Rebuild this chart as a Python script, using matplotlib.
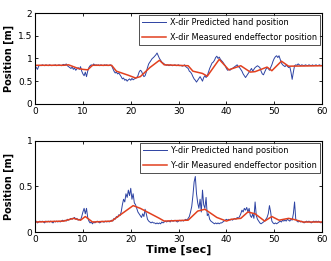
import numpy as np
import matplotlib
matplotlib.use("Agg")
import matplotlib.pyplot as plt

# time grid for predicted signals (0.25 s)
t_pred = np.arange(0, 60.001, 0.25)

x_pred = [
    0.84, 0.80, 0.76, 0.83, 0.85, 0.84, 0.86, 0.85, 0.84, 0.86, 0.85, 0.84,
    0.86, 0.85, 0.84, 0.85, 0.85, 0.86, 0.84, 0.85, 0.86, 0.85, 0.84, 0.86,
    0.87, 0.85, 0.88, 0.84, 0.82, 0.80, 0.78, 0.81, 0.76, 0.79, 0.74, 0.77,
    0.80, 0.76, 0.82, 0.72, 0.66, 0.62, 0.70, 0.60, 0.72, 0.80, 0.84, 0.86,
    0.84, 0.88, 0.85, 0.86, 0.85, 0.86, 0.84, 0.86, 0.85, 0.84, 0.86, 0.85,
    0.86, 0.84, 0.85, 0.86, 0.84, 0.78, 0.72, 0.68, 0.70, 0.66, 0.68, 0.64,
    0.60, 0.55, 0.57, 0.52, 0.54, 0.50, 0.53, 0.55, 0.52, 0.56, 0.53, 0.55,
    0.56, 0.58, 0.62, 0.70, 0.74, 0.72, 0.65, 0.60, 0.62, 0.70, 0.80, 0.88,
    0.92, 0.96, 1.00, 1.02, 1.05, 1.08, 1.12, 1.06, 1.00, 0.96, 0.92, 0.90,
    0.88, 0.86, 0.85, 0.86, 0.84, 0.86, 0.85, 0.84, 0.85, 0.86, 0.84, 0.85,
    0.86, 0.84, 0.85, 0.83, 0.84, 0.86, 0.82, 0.80, 0.78, 0.72, 0.70, 0.66,
    0.60, 0.55, 0.52, 0.48, 0.52, 0.56, 0.60, 0.55, 0.50, 0.58, 0.62, 0.58,
    0.62, 0.70, 0.78, 0.84, 0.90, 0.92, 0.96, 1.02, 1.05, 1.00, 1.03, 0.98,
    0.95, 0.92, 0.88, 0.84, 0.78, 0.74, 0.76, 0.74, 0.77, 0.78, 0.80, 0.82,
    0.84, 0.86, 0.82, 0.80, 0.76, 0.72, 0.66, 0.62, 0.58, 0.62, 0.66, 0.70,
    0.74, 0.78, 0.72, 0.76, 0.80, 0.82, 0.84, 0.82, 0.80, 0.72, 0.66, 0.64,
    0.70, 0.76, 0.80, 0.78, 0.74, 0.80, 0.86, 0.94, 1.00, 1.04, 1.06, 1.02,
    1.06, 0.98, 0.90, 0.86, 0.84, 0.82, 0.85, 0.83, 0.80, 0.82, 0.70, 0.54,
    0.70, 0.84, 0.86, 0.85, 0.88, 0.86, 0.84, 0.86, 0.85, 0.84, 0.86, 0.85,
    0.84, 0.86, 0.85, 0.84, 0.86, 0.84, 0.85, 0.86, 0.84, 0.85, 0.86, 0.84,
    0.85,
]

y_pred = [
    0.11, 0.12, 0.10, 0.11, 0.12, 0.11, 0.12, 0.11, 0.10, 0.12, 0.11, 0.12,
    0.11, 0.12, 0.11, 0.10, 0.12, 0.11, 0.12, 0.11, 0.12, 0.11, 0.12, 0.13,
    0.12, 0.13, 0.12, 0.14, 0.13, 0.14, 0.15, 0.14, 0.15, 0.16, 0.14, 0.15,
    0.13, 0.14, 0.13, 0.17, 0.22, 0.26, 0.20, 0.26, 0.16, 0.12, 0.10, 0.11,
    0.09, 0.11, 0.10, 0.11, 0.12, 0.11, 0.10, 0.11, 0.12, 0.11, 0.11, 0.12,
    0.11, 0.12, 0.11, 0.12, 0.13, 0.12, 0.15, 0.14, 0.17, 0.16, 0.19, 0.18,
    0.22, 0.30, 0.36, 0.33, 0.42, 0.38, 0.46, 0.40, 0.48, 0.36, 0.42, 0.32,
    0.30, 0.26, 0.22, 0.20, 0.18, 0.16, 0.20, 0.17, 0.25, 0.20, 0.14, 0.12,
    0.11, 0.10, 0.11, 0.10, 0.10, 0.09, 0.10, 0.09, 0.10, 0.09, 0.11, 0.10,
    0.11, 0.12, 0.11, 0.12, 0.12, 0.11, 0.13, 0.12, 0.12, 0.13, 0.12, 0.11,
    0.12, 0.13, 0.12, 0.13, 0.12, 0.13, 0.14, 0.13, 0.15, 0.17, 0.22, 0.28,
    0.40, 0.55, 0.61, 0.42, 0.32, 0.26, 0.36, 0.22, 0.46, 0.30, 0.26, 0.38,
    0.18, 0.20, 0.14, 0.12, 0.11, 0.10, 0.09, 0.10, 0.09, 0.10, 0.09, 0.10,
    0.10, 0.11, 0.12, 0.13, 0.14, 0.13, 0.14, 0.13, 0.14, 0.13, 0.14, 0.15,
    0.14, 0.16, 0.15, 0.17, 0.20, 0.24, 0.22, 0.26, 0.24, 0.27, 0.22, 0.26,
    0.18, 0.16, 0.20, 0.15, 0.33, 0.18, 0.14, 0.12, 0.10, 0.09, 0.10, 0.11,
    0.12, 0.14, 0.16, 0.20, 0.29, 0.22, 0.12, 0.10, 0.09, 0.10, 0.09, 0.10,
    0.11, 0.12, 0.11, 0.13, 0.12, 0.13, 0.12, 0.14, 0.13, 0.12, 0.14, 0.13,
    0.20, 0.33, 0.14, 0.12, 0.11, 0.12, 0.11, 0.12, 0.11, 0.10, 0.11, 0.12,
    0.11, 0.12, 0.11, 0.10, 0.11, 0.12, 0.11, 0.12, 0.11, 0.12, 0.11, 0.10,
    0.11,
]

# measured end-effector (piecewise linear)
x_meas_t = [0, 6, 7, 9, 10, 11, 12, 16, 17, 19.5, 21, 22, 24, 26, 27, 32,
            33, 35, 36, 38.5, 40.5, 43, 45, 46, 48.5, 49.5, 51.5, 53, 60]
x_meas = [0.85, 0.85, 0.86, 0.78, 0.76, 0.75, 0.85, 0.85, 0.72, 0.63, 0.57,
          0.60, 0.80, 0.96, 0.86, 0.84, 0.72, 0.67, 0.61, 0.98, 0.75, 0.84,
          0.70, 0.71, 0.81, 0.73, 0.94, 0.83, 0.84]

y_meas_t = [0, 6, 8, 9.5, 10.5, 12, 16, 20.5, 22, 26, 27, 32, 34, 35.5, 38,
            40, 41, 43, 44.5, 46, 48, 49.5, 51, 53, 54, 56, 60]
y_meas = [0.11, 0.12, 0.15, 0.13, 0.17, 0.11, 0.12, 0.29, 0.26, 0.15, 0.12,
          0.13, 0.23, 0.25, 0.16, 0.12, 0.14, 0.15, 0.22, 0.20, 0.12, 0.17,
          0.13, 0.15, 0.14, 0.11, 0.11]

x_ticks = [0, 10, 20, 30, 40, 50, 60]
top_yticks = [0, 0.5, 1, 1.5, 2]
bot_yticks = [0, 0.5, 1]

blue = "#2d43a3"
red = "#e2401f"

fig = plt.figure(figsize=(3.31, 2.61), dpi=100)
ax1 = fig.add_axes([0.106, 0.602, 0.867, 0.348])
ax2 = fig.add_axes([0.106, 0.111, 0.867, 0.349])

def style(ax, yticks, ylim):
    ax.set_xlim(0, 60)
    ax.set_ylim(*ylim)
    ax.set_xticks(x_ticks)
    ax.set_yticks(yticks)
    ax.set_yticklabels([("%g" % v) for v in yticks])
    ax.tick_params(direction="in", length=2.5, width=0.6, labelsize=6.5,
                   top=True, right=True, pad=2)
    for s in ax.spines.values():
        s.set_linewidth(0.8)
    ax.set_ylabel("Position [m]", fontsize=7, fontweight="bold", labelpad=3)

def legend(ax):
    lg = ax.legend(loc="upper right", fontsize=5.85, frameon=True, fancybox=False,
                   edgecolor="black", handlelength=2.9, borderaxespad=0.25,
                   labelspacing=0.7, borderpad=0.4, handletextpad=0.5)
    lg.get_frame().set_linewidth(0.6)

ax1.plot(t_pred, x_pred, color=blue, lw=0.7, label="X-dir Predicted hand position")
ax1.plot(x_meas_t, x_meas, color=red, lw=1.1, label="X-dir Measured endeffector position")
style(ax1, top_yticks, (0, 2))
legend(ax1)

ax2.plot(t_pred, y_pred, color=blue, lw=0.7, label="Y-dir Predicted hand position")
ax2.plot(y_meas_t, y_meas, color=red, lw=1.1, label="Y-dir Measured endeffector position")
style(ax2, bot_yticks, (0, 1))
ax2.set_xlabel("Time [sec]", fontsize=8, fontweight="bold", labelpad=1)
legend(ax2)

fig.savefig("out.png", dpi=100)
